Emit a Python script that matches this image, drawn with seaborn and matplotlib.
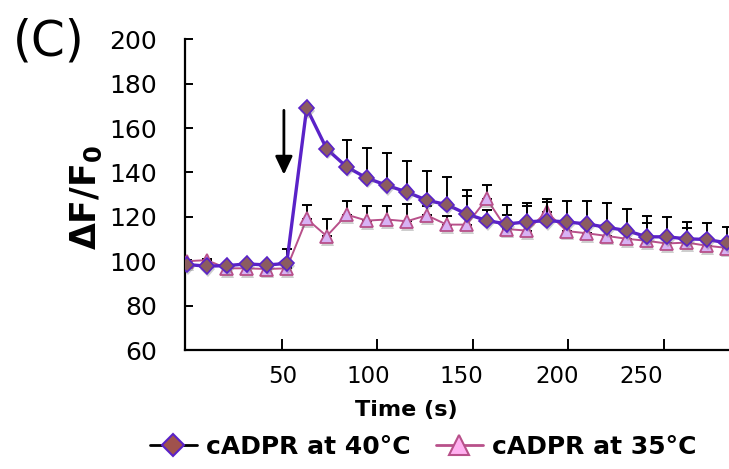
import matplotlib
matplotlib.use("Agg")
import matplotlib.pyplot as plt
import matplotlib.patheffects as pe
from matplotlib.lines import Line2D
import seaborn as sns
import pandas as pd

# ---- data ----
time_s = [0, 10, 20, 30, 40, 50, 60, 70, 80, 90, 100, 110, 120, 130,
          140, 150, 160, 170, 180, 190, 200, 210, 220, 230, 240, 250, 260, 270]
c40_mean = [98.5, 97.8, 98.0, 98.8, 98.3, 99.0, 169.0, 150.6, 142.5, 137.5,
            134.2, 131.2, 127.5, 125.5, 121.3, 118.3, 116.8, 117.7, 118.3, 117.7,
            116.8, 115.3, 113.8, 111.0, 111.0, 110.1, 109.8, 108.3]
c40_err = [0.5, 0.5, 0.5, 0.5, 0.5, 6.3, 0.0, 0.0, 12.3, 13.5,
           14.6, 14.1, 13.0, 12.5, 11.0, 5.0, 8.4, 8.4, 8.4, 9.6,
           10.2, 11.0, 9.7, 9.3, 8.8, 7.5, 7.5, 7.1]
c35_mean = [100.0, 100.5, 96.8, 96.8, 96.5, 96.8, 119.1, 111.3, 121.0, 118.3,
            118.8, 118.0, 120.7, 116.5, 116.5, 128.1, 114.5, 113.8, 122.2, 113.6,
            112.6, 111.4, 110.1, 109.2, 108.0, 108.4, 107.0, 106.0]
c35_err = [0.5, 0.5, 0.5, 0.5, 0.5, 0.5, 6.1, 7.9, 6.0, 6.5,
           6.0, 7.8, 4.0, 4.0, 13.1, 6.1, 6.5, 11.0, 6.0, 4.0,
           3.0, 3.0, 3.0, 8.2, 3.0, 6.5, 3.0, 3.0]
series_names = ["cADPR at 40°C", "cADPR at 35°C"]
y_ticks = [60, 80, 100, 120, 140, 160, 180, 200]
x_tick_labels = ["50", "100", "150", "200", "250"]

# layout positions (axis units) of the tick marks and of their labels
x_tick_marks = [47.5, 95.3, 143.0, 190.8, 238.7]
x_label_pos = [47.8, 91.0, 137.5, 185.4, 227.0]

df40 = pd.DataFrame({"t": time_s, "v": c40_mean})
df35 = pd.DataFrame({"t": time_s, "v": c35_mean})

sns.set_style("ticks")
plt.rcParams["font.family"] = ["DejaVu Sans"]
plt.rcParams.update({"text.color": "black", "axes.labelcolor": "black",
                     "xtick.color": "black", "ytick.color": "black",
                     "axes.edgecolor": "black"})

fig = plt.figure(figsize=(7.29, 4.69), dpi=100)
ax = fig.add_axes([185 / 729, 1 - 350 / 469, 544 / 729, (350 - 39.3) / 469])

c40_line = "#5a22c8"
c40_face = "#8b5c60"
c35_line = "#b8508a"
c35_face = "#d8b2f4"
shadow = [pe.SimplePatchShadow(offset=(0.8, -2.0), shadow_rgbFace="0.45", alpha=0.35),
          pe.Normal()]

# 35 °C series (below)
sns.lineplot(data=df35, x="t", y="v", ax=ax, color=c35_line, lw=1.4, zorder=3)
ax.plot(df35["t"], df35["v"], ls="none", marker="^", ms=9.5, mfc=c35_face,
        mec=c35_line, mew=1.3, zorder=3.1, path_effects=shadow)
ax.errorbar(time_s, c35_mean, yerr=[[0] * len(c35_err), c35_err], fmt="none",
            ecolor="black", elinewidth=1.4, capsize=3.3, capthick=1.4, zorder=2)
# 40 °C series (above)
ax.errorbar(time_s, c40_mean, yerr=[[0] * len(c40_err), c40_err], fmt="none",
            ecolor="black", elinewidth=1.4, capsize=3.3, capthick=1.4, zorder=4)
sns.lineplot(data=df40, x="t", y="v", ax=ax, color=c40_line, lw=2.4, zorder=5)
ax.plot(df40["t"], df40["v"], ls="none", marker="D", ms=7.8, mfc=c40_face,
        mec=c40_line, mew=1.2, zorder=5.1, path_effects=shadow)

# stimulus arrow
ax.annotate("", xy=(48.6, 139), xytext=(48.6, 168),
            arrowprops=dict(arrowstyle="-|>,head_length=0.55,head_width=0.26",
                            color="black", lw=2, mutation_scale=20,
                            shrinkA=0, shrinkB=0))

ax.set_xlim(-0.85, 271.15)
ax.set_ylim(60, 200)
ax.set_yticks(y_ticks)
ax.set_yticklabels([str(v) for v in y_ticks])
ax.set_xticks(x_tick_marks)
ax.set_xticklabels([""] * len(x_tick_marks))
ax.set_xticks(x_label_pos, minor=True)
ax.set_xticklabels(x_tick_labels, minor=True)

ax.tick_params(axis="y", direction="in", length=6, width=1.4, labelsize=18, pad=20)
ax.tick_params(axis="x", which="major", direction="in", length=8, width=1.4)
ax.tick_params(axis="x", which="minor", length=0, labelsize=16.5, pad=11)
for s in ["top", "right"]:
    ax.spines[s].set_visible(False)
for s in ["left", "bottom"]:
    ax.spines[s].set_linewidth(1.6)

ax.set_xlabel("")
ax.set_ylabel(r"ΔF/F$_{\mathbf{0}}$", fontsize=25, fontweight="bold")
ax.yaxis.set_label_coords(-0.148, 0.49)

fig.text(406 / 729, 1 - 410 / 469, "Time (s)", ha="center", va="center",
         fontsize=16, fontweight="bold")
fig.text(13 / 729, 1 - 42 / 469, "(C)", ha="left", va="center", fontsize=35)

handles = [
    Line2D([], [], color="black", lw=2, marker="D", ms=11,
           mfc="#a0524d", mec="#5a22c8", mew=1.5),
    Line2D([], [], color="#b8508a", lw=2, marker="^", ms=14,
           mfc="#ffb0f0", mec="#b8508a", mew=1.5),
]
fig.legend(handles, series_names, loc="center", bbox_to_anchor=(423 / 729, 1 - 447 / 469),
           ncol=2, frameon=False, handlelength=1.9, handletextpad=0.35,
           columnspacing=1.0, prop=dict(size=18, weight="bold"))

fig.savefig("out.png", dpi=100)
